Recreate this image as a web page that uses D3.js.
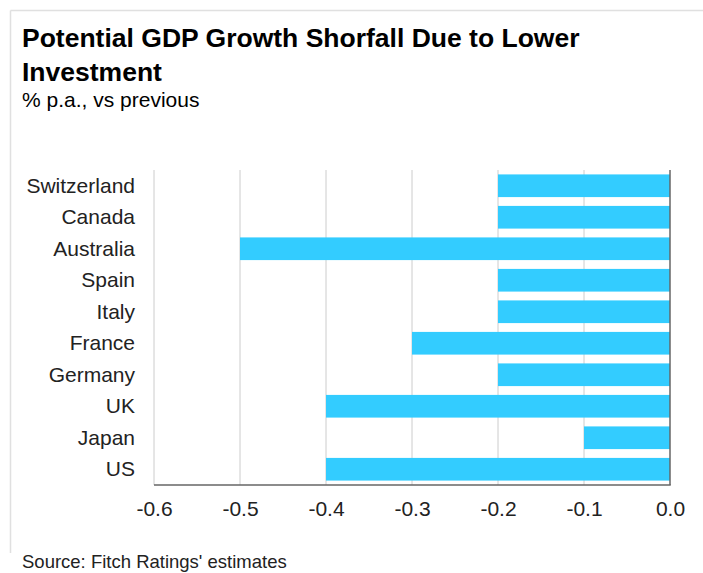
<!DOCTYPE html>
<html>
<head>
<meta charset="utf-8">
<script src="https://cdn.jsdelivr.net/npm/d3@7"></script>
<style>
  html, body { margin: 0; padding: 0; background: #fff; }
  svg { display: block; font-family: "Liberation Sans", Arial, sans-serif; }
</style>
</head>
<body>
<svg id="chart" width="703" height="573"></svg>
<script>
// Countries, top to bottom
const countries = ["Switzerland", "Canada", "Australia", "Spain", "Italy", "France", "Germany", "UK", "Japan", "US"];
// Shortfall in potential growth, % p.a.
const shortfall = [-0.2, -0.2, -0.5, -0.2, -0.2, -0.3, -0.2, -0.4, -0.1, -0.4];
const xTicks = [-0.6, -0.5, -0.4, -0.3, -0.2, -0.1, 0.0];

const svg = d3.select("#chart");

// Panel frame (top and left edges)
svg.append("line").attr("x1", 10.5).attr("x2", 703).attr("y1", 10.5).attr("y2", 10.5)
  .attr("stroke", "#e0e0e0").attr("stroke-width", 1.5);
svg.append("line").attr("x1", 10.5).attr("x2", 10.5).attr("y1", 10.5).attr("y2", 553)
  .attr("stroke", "#e0e0e0").attr("stroke-width", 1.5);

// Titles
svg.append("text").attr("x", 22).attr("y", 47)
  .attr("font-size", 26.5).attr("font-weight", "bold").attr("fill", "#000")
  .text("Potential GDP Growth Shorfall Due to Lower");
svg.append("text").attr("x", 22).attr("y", 80.5)
  .attr("font-size", 26.5).attr("font-weight", "bold").attr("fill", "#000")
  .text("Investment");
svg.append("text").attr("x", 22).attr("y", 107)
  .attr("font-size", 21).attr("fill", "#000")
  .text("% p.a., vs previous");

const margin = { left: 154, right: 670, top: 170, bottom: 485 };

const x = d3.scaleLinear().domain([-0.6, 0]).range([margin.left, margin.right]);
const y = d3.scaleBand().domain(countries).range([margin.top, margin.bottom]).paddingInner(0.28).paddingOuter(0.14);

// Vertical gridlines
svg.append("g").selectAll("line").data(xTicks.filter(d => d !== 0)).join("line")
  .attr("x1", d => x(d)).attr("x2", d => x(d))
  .attr("y1", margin.top).attr("y2", margin.bottom)
  .attr("stroke", "#cccccc").attr("stroke-width", 1);

// Bars
svg.append("g").selectAll("rect").data(countries).join("rect")
  .attr("x", (d, i) => x(shortfall[i]))
  .attr("y", d => y(d))
  .attr("width", (d, i) => x(0) - x(shortfall[i]))
  .attr("height", y.bandwidth())
  .attr("fill", "#33ccff");

// Zero line and baseline
svg.append("line").attr("x1", x(0)).attr("x2", x(0)).attr("y1", margin.top).attr("y2", margin.bottom)
  .attr("stroke", "#666").attr("stroke-width", 1.5);
svg.append("line").attr("x1", margin.left).attr("x2", x(0) + 0.75).attr("y1", margin.bottom).attr("y2", margin.bottom)
  .attr("stroke", "#666").attr("stroke-width", 1.5);

// Category labels
const yAxis = d3.axisLeft(y).tickSize(0).tickPadding(0);
const gy = svg.append("g").attr("transform", `translate(135,0)`).call(yAxis);
gy.select(".domain").remove();
gy.selectAll("text").attr("font-size", 21).attr("fill", "#222").attr("dy", "0.34em")
  .attr("font-family", "'Liberation Sans', Arial, sans-serif");

// Value axis labels
const xAxis = d3.axisBottom(x).tickValues(xTicks).tickFormat(d3.format(".1f")).tickSize(0).tickPadding(0);
const gx = svg.append("g").attr("transform", `translate(0,${margin.bottom + 16})`).call(xAxis);
gx.select(".domain").remove();
gx.selectAll("text").attr("font-size", 21).attr("fill", "#222")
  .attr("font-family", "'Liberation Sans', Arial, sans-serif")
  .text(d => d3.format(".1f")(d).replace("−", "-"));

// Source note
svg.append("text").attr("x", 22).attr("y", 568)
  .attr("font-size", 18.5).attr("fill", "#222")
  .text("Source: Fitch Ratings' estimates");
</script>
</body>
</html>
